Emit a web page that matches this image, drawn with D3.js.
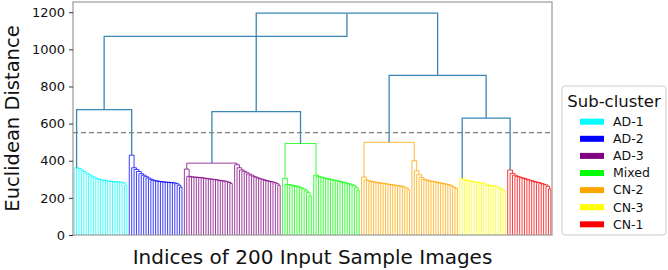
<!DOCTYPE html>
<html>
<head>
<meta charset="utf-8">
<script src="https://cdn.jsdelivr.net/npm/d3@7"></script>
<style>
  body { margin: 0; background: #fff; }
  svg text { font-family: "DejaVu Sans", sans-serif; }
</style>
</head>
<body>
<div id="chart"></div>
<script>
// sub-cluster names and colours (legend order)
const clusterNames = ["AD-1", "AD-2", "AD-3", "Mixed", "CN-2", "CN-3", "CN-1"];
const clusterColors = ["#00ffff", "#0000ff", "#800080", "#00ff00", "#ffa500", "#ffff00", "#ff0000"];

// merge heights, left to right, each list is a ladder
const ad1Heights = [362, 358, 350, 342, 334, 326, 318, 312, 306, 301, 298, 295, 293, 291, 289, 288, 287, 286, 285, 284, 280, 268];
const ad2Heights = [430, 362, 353, 342, 330, 322, 314, 307, 300, 295, 292, 290, 288, 286, 285, 284, 283, 282, 280, 276, 268, 258];
const ad3Top = 387;
const ad3Left = [355, 316, 313, 312, 311, 310, 309, 307, 305, 303, 301, 300, 298, 296, 294, 292, 290, 287, 283, 278];
const ad3Right = [378, 362, 350, 343, 335, 328, 322, 316, 311, 306, 302, 298, 294, 291, 288, 285, 281, 276, 268];
const mixedTop = 493;
const mixedLeft = [305, 272, 270, 268, 265, 262, 258, 253, 247, 238, 228, 210];
const mixedRight = [322, 316, 312, 308, 305, 302, 300, 297, 294, 291, 288, 285, 282, 278, 275, 270, 265, 255, 242];
const cn2Top = 499;
const cn2Left = [312, 296, 292, 288, 286, 284, 282, 280, 278, 276, 274, 272, 270, 268, 266, 264, 262, 258, 252, 243];
const cn2Right = [400, 346, 325, 310, 300, 296, 292, 290, 288, 285, 282, 280, 278, 275, 272, 268, 262, 255, 250];
const cn3Heights = [305, 298, 294, 291, 289, 287, 285, 283, 281, 279, 270, 268, 267, 265, 262, 258, 252, 244, 235];
const cn1Heights = [350, 332, 322, 316, 312, 308, 304, 300, 296, 292, 288, 285, 282, 278, 274, 270, 262, 248];

// upper merges: AD-1+AD-2, AD-3+Mixed, CN-3+CN-1, CN-2+(CN-3,CN-1), top, root
const upperHeights = { ad12: 675, ad3mix: 664, cn31: 630, cn: 860, top: 1195, root: 1070 };
const cutHeight = 551;
const yTicks = [0, 200, 400, 600, 800, 1000, 1200];
const nLeaves = 200;

// --- tree building
const leaf = (c) => ({ leaf: true, c });
const node = (h, a, b, c) => ({ h, kids: [a, b], c });
function ladder(hs, c) {
  if (hs.length === 1) return node(hs[0], leaf(c), leaf(c), c);
  return node(hs[0], leaf(c), ladder(hs.slice(1), c), c);
}
const ad1 = ladder(ad1Heights, 0);
const ad2 = ladder(ad2Heights, 1);
const ad3 = node(ad3Top, ladder(ad3Left, 2), ladder(ad3Right, 2), 2);
const mixed = node(mixedTop, ladder(mixedLeft, 3), ladder(mixedRight, 3), 3);
const cn2 = node(cn2Top, ladder(cn2Left, 4), ladder(cn2Right, 4), 4);
const cn3 = ladder(cn3Heights, 5);
const cn1 = ladder(cn1Heights, 6);
const root = node(upperHeights.root,
  node(upperHeights.ad12, ad1, ad2, -1),
  node(upperHeights.top,
    node(upperHeights.ad3mix, ad3, mixed, -1),
    node(upperHeights.cn, cn2, node(upperHeights.cn31, cn3, cn1, -1), -1), -1), -1);

// --- layout
const W = 668, H = 270;
const m = { left: 73, right: 552, top: 2, bottom: 235 };
const x = d3.scaleLinear().domain([0, nLeaves * 10]).range([m.left, m.right]);
const y = d3.scaleLinear().domain([0, 1255]).range([m.bottom, m.top]);

let leafCount = 0;
const links = [];
function place(n) {
  if (n.leaf) { n.x = 5 + 10 * leafCount++; n.y = 0; return; }
  n.kids.forEach(place);
  n.x = (n.kids[0].x + n.kids[1].x) / 2;
  n.y = n.h;
  links.push(n);
}
place(root);

const svg = d3.select("#chart").append("svg").attr("width", W).attr("height", H);

const linkColor = "#3a86b6";
const gLinks = svg.append("g").attr("fill", "none");
// cluster links first, upper ones on top
links.sort((a, b) => (a.c < 0) - (b.c < 0));
gLinks.selectAll("path").data(links).join("path")
  .attr("d", n => {
    const [a, b] = n.kids;
    return `M${x(a.x)},${y(a.y)}V${y(n.h)}H${x(b.x)}V${y(b.y)}`;
  })
  .attr("stroke", n => n.c < 0 ? linkColor : clusterColors[n.c])
  .attr("stroke-opacity", n => n.c < 0 ? 1 : 0.85)
  .attr("stroke-width", n => n.c < 0 ? 1.3 : 0.9);

// cut line
svg.append("line")
  .attr("x1", m.left).attr("x2", m.right)
  .attr("y1", y(cutHeight)).attr("y2", y(cutHeight))
  .attr("stroke", "#808080").attr("stroke-width", 1.2)
  .attr("stroke-dasharray", "5,3");

// frame
svg.append("rect")
  .attr("x", m.left).attr("y", m.top)
  .attr("width", m.right - m.left).attr("height", m.bottom - m.top)
  .attr("fill", "none").attr("stroke", "#999").attr("stroke-width", 1.2);

// y axis
const yAxis = svg.append("g")
  .attr("transform", `translate(${m.left},0)`)
  .call(d3.axisLeft(y).tickValues(yTicks).tickFormat(d3.format("d")).tickSize(4).tickPadding(4));
yAxis.select(".domain").remove();
yAxis.selectAll("line").attr("stroke", "#333");
yAxis.selectAll("text").attr("font-size", 13).attr("fill", "#111")
  .style("font-family", "DejaVu Sans");

// axis labels
svg.append("text")
  .attr("transform", `translate(19,${(m.top + m.bottom) / 2}) rotate(-90)`)
  .attr("text-anchor", "middle")
  .attr("font-size", 19.5).attr("fill", "#111")
  .text("Euclidean Distance");
svg.append("text")
  .attr("x", (m.left + m.right) / 2).attr("y", 264)
  .attr("text-anchor", "middle")
  .attr("font-size", 20).attr("fill", "#111")
  .text("Indices of 200 Input Sample Images");

// legend
const lg = svg.append("g");
lg.append("rect")
  .attr("x", 562).attr("y", 86).attr("width", 104).attr("height", 149)
  .attr("rx", 3).attr("fill", "#fff").attr("stroke", "#ccc");
lg.append("text")
  .attr("x", 614).attr("y", 107).attr("text-anchor", "middle")
  .attr("font-size", 16.5).attr("fill", "#111")
  .text("Sub-cluster");
const items = lg.selectAll("g.item").data(clusterNames).join("g")
  .attr("class", "item")
  .attr("transform", (d, i) => `translate(0,${121.7 + i * 17.1})`);
items.append("rect")
  .attr("x", 580).attr("y", -3).attr("width", 24).attr("height", 6)
  .attr("fill", (d, i) => clusterColors[i]);
items.append("text")
  .attr("x", 613).attr("y", 0).attr("dy", "0.35em")
  .attr("font-size", 12.5).attr("fill", "#111")
  .text(d => d);
</script>
</body>
</html>
